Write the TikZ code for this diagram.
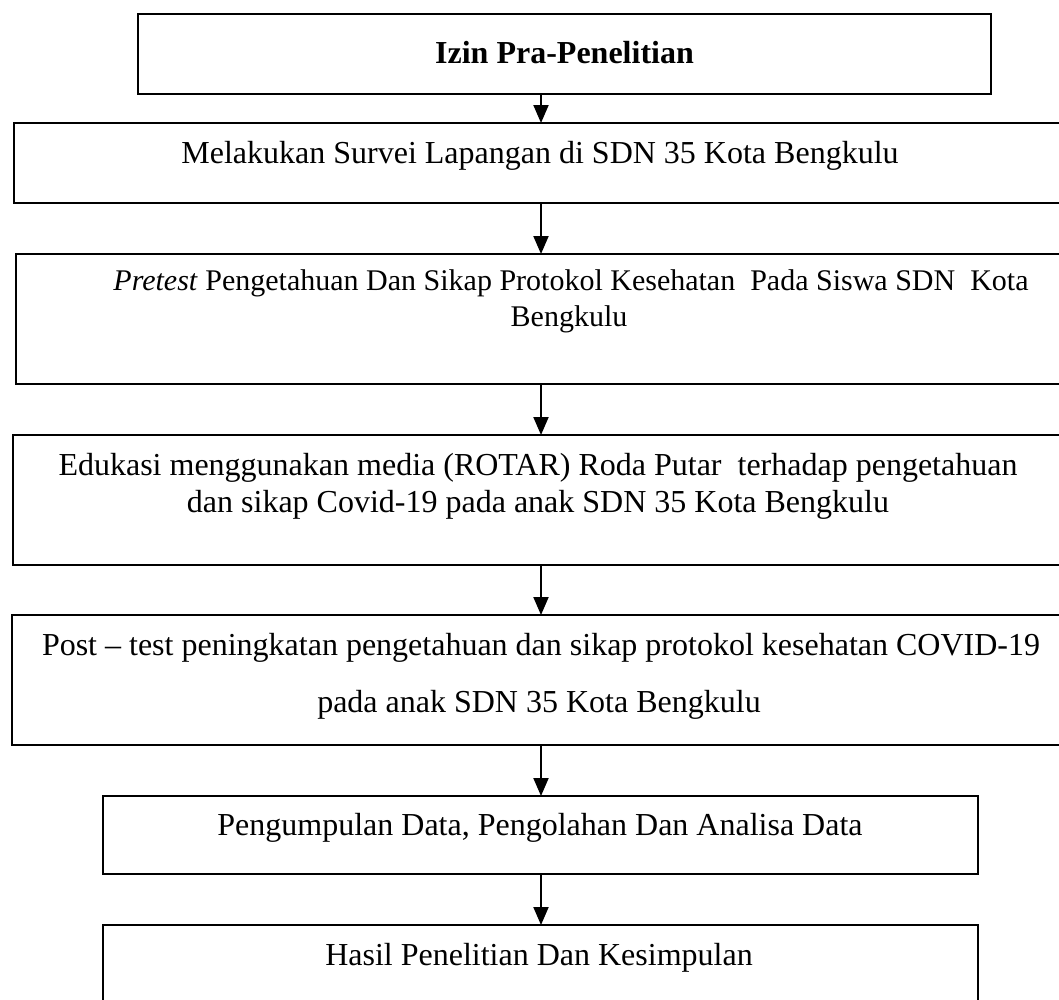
\documentclass[tikz,border=0pt]{standalone}
\usepackage{fontspec}
\setmainfont{Liberation Serif}
\usetikzlibrary{arrows.meta}
\begin{document}
\begin{tikzpicture}[x=1pt,y=-1pt,
  box/.style={draw, line width=2.4pt, rectangle, inner sep=0pt, outer sep=0pt},
  txt/.style={anchor=base, inner sep=0pt, font=\fontsize{32}{38}\selectfont},
  smalltxt/.style={txt, font=\fontsize{30}{36}\selectfont},
  arr/.style={line width=2pt, -{Triangle[width=15pt,length=18pt]}}]
\useasboundingbox (0,0) rectangle (1059,999);
% boxes
\node[box, minimum width=853pt, minimum height=80pt] (b1) at (564.5,54) {};
\node[box, minimum width=1054pt, minimum height=80pt] (b2) at (541,163) {};
\node[box, minimum width=1050pt, minimum height=130pt] (b3) at (541,319) {};
\node[box, minimum width=1056pt, minimum height=130pt] (b4) at (541,500) {};
\node[box, minimum width=1058pt, minimum height=130pt] (b5) at (541,680) {};
\node[box, minimum width=875pt, minimum height=78pt] (b6) at (540.5,835) {};
\node[box, minimum width=875pt, minimum height=78pt] (b7) at (540.5,964) {};
% texts
\node[txt] (t1) at (564.5,63) {\textbf{Izin Pra-Penelitian}};
\node[txt] (t2) at (540,163) {Melakukan Survei Lapangan di SDN 35 Kota Bengkulu};
\node[smalltxt] (t3a) at (571,290) {\textit{Pretest} Pengetahuan Dan Sikap Protokol Kesehatan~ Pada Siswa SDN~ Kota};
\node[smalltxt] (t3b) at (569,326) {Bengkulu};
\node[txt] (t4a) at (538,475) {Edukasi menggunakan media (ROTAR) Roda Putar~ terhadap pengetahuan};
\node[txt] (t4b) at (538,512) {dan sikap Covid-19 pada anak SDN 35 Kota Bengkulu};
\node[txt] (t5a) at (541,655) {Post -- test peningkatan pengetahuan dan sikap protokol kesehatan COVID-19};
\node[txt] (t5b) at (539,712) {pada anak SDN 35 Kota Bengkulu};
\node[txt] (t6) at (540,835) {Pengumpulan Data, Pengolahan Dan Analisa Data};
\node[txt] (t7) at (539,965) {Hasil Penelitian Dan Kesimpulan};
% connectors
\coordinate (ax) at (541,0);
\draw[arr] (b1.south -| ax) -- (b2.north -| ax);
\draw[arr] (b2.south -| ax) -- (b3.north -| ax);
\draw[arr] (b3.south -| ax) -- (b4.north -| ax);
\draw[arr] (b4.south -| ax) -- (b5.north -| ax);
\draw[arr] (b5.south -| ax) -- (b6.north -| ax);
\draw[arr] (b6.south -| ax) -- (b7.north -| ax);
\end{tikzpicture}
\end{document}
